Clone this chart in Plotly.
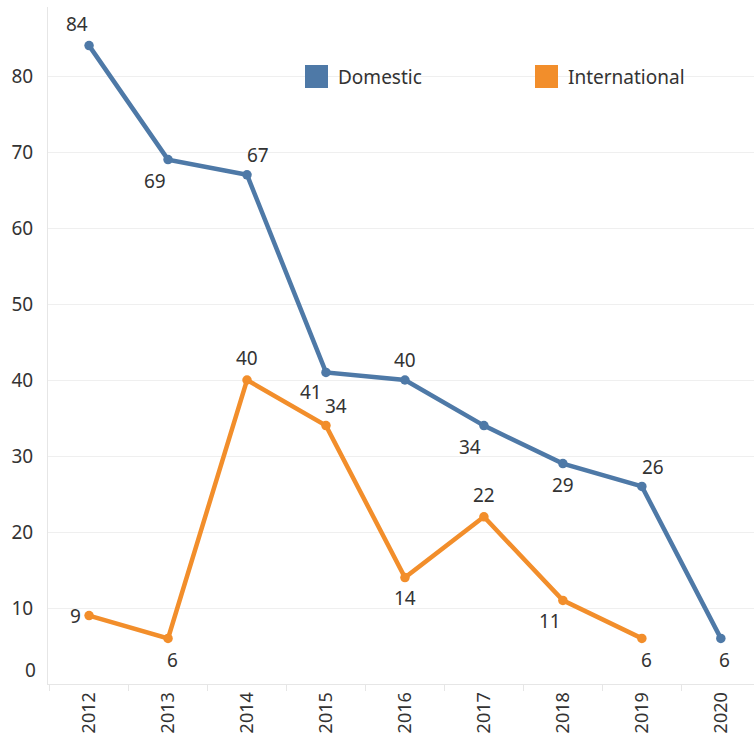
import plotly.graph_objects as go

years = ["2012", "2013", "2014", "2015", "2016", "2017", "2018", "2019", "2020"]
domestic = [84, 69, 67, 41, 40, 34, 29, 26, 6]
international = [9, 6, 40, 34, 14, 22, 11, 6, None]
y_ticks = [10, 20, 30, 40, 50, 60, 70, 80]

# label offsets in screen pixels (dx, dy), dy positive = downwards
dom_offsets = [(-12, -22), (-13, 21), (11, -20), (-15, 20), (0, -20), (-14, 21), (0, 21), (11, -19), (4, 22)]
intl_offsets = [(-14, 0), (4, 22), (0, -22), (10, -20), (0, 20), (0, -22), (-13, 21), (5, 22)]

BLUE = "#4e79a7"
ORANGE = "#f28e2b"
TXT = "#333333"
FONT = "Noto Sans"

W, H = 754, 738
L, T = 48, 7
ZERO = 684                 # y pixel of value 0
PW, PH = W - L, ZERO - T

fig = go.Figure()
fig.add_trace(go.Scatter(x=years, y=domestic, mode="lines+markers", name="Domestic",
                         line=dict(color=BLUE, width=4.5), marker=dict(color=BLUE, size=9.5),
                         showlegend=False, cliponaxis=False, hoverinfo="skip"))
fig.add_trace(go.Scatter(x=years[:8], y=international[:8], mode="lines+markers", name="International",
                         line=dict(color=ORANGE, width=4.5), marker=dict(color=ORANGE, size=9.5),
                         showlegend=False, cliponaxis=False, hoverinfo="skip"))

ann = []
for i, v in enumerate(domestic):
    dx, dy = dom_offsets[i]
    ann.append(dict(x=i, y=v, text=str(v), showarrow=False, xshift=dx, yshift=-dy,
                    font=dict(family=FONT, size=19, color=TXT)))
for i, v in enumerate(international):
    if v is None:
        continue
    dx, dy = intl_offsets[i]
    ann.append(dict(x=i, y=v, text=str(v), showarrow=False, xshift=dx, yshift=-dy,
                    font=dict(family=FONT, size=19, color=TXT)))

# shifted "0" y tick label (Tableau style)
ann.append(dict(xref="paper", x=0, y=0, text="0", showarrow=False, xanchor="right",
                xshift=-10, yshift=14, font=dict(family=FONT, size=19, color=TXT)))


def px(x):
    return (x - L) / PW


def py(y):
    return (ZERO - y) / PH


shapes = []
for x0, col, name in [(305, BLUE, "Domestic"), (535, ORANGE, "International")]:
    shapes.append(dict(type="rect", xref="paper", yref="paper", x0=px(x0), x1=px(x0 + 23),
                       y0=py(88), y1=py(65), fillcolor=col, line=dict(width=0)))
    ann.append(dict(xref="paper", yref="paper", x=px(x0 + 31), y=py(77), text=name, showarrow=False,
                    xanchor="left", yanchor="middle", font=dict(family=FONT, size=19, color=TXT)))

fig.update_layout(
    width=W, height=H,
    margin=dict(l=L, r=0, t=T, b=H - ZERO, pad=0),
    plot_bgcolor="white", paper_bgcolor="white",
    annotations=ann, shapes=shapes,
    showlegend=False,
    font=dict(family=FONT, size=19, color=TXT),
)
fig.update_xaxes(type="category", range=[-0.52, 8.42], tickangle=-90, showgrid=False,
                 ticks="outside", tickson="boundaries", ticklen=6, tickcolor="#e6e6e6",
                 showline=True, linecolor="#e6e6e6", linewidth=1,
                 tickfont=dict(family=FONT, size=18, color=TXT), zeroline=False)
fig.update_yaxes(range=[0, PH / 7.6], tickvals=y_ticks, ticktext=[str(t) for t in y_ticks],
                 showgrid=True, gridcolor="#efefef", gridwidth=1,
                 showline=True, linecolor="#e6e6e6", linewidth=1, zeroline=False,
                 ticks="", ticklabelstandoff=10,
                 tickfont=dict(family=FONT, size=19, color=TXT))

fig.write_html("out.html", config={"displayModeBar": False},
               post_script="document.body.style.margin='0px';")
